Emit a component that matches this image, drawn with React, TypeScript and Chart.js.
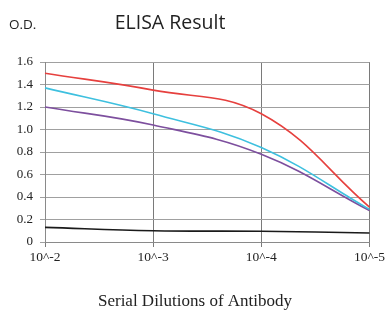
import { useEffect, useRef } from 'react';
import { Chart, registerables } from 'chart.js';

Chart.register(...registerables);

const categories = ['10^-2', '10^-3', '10^-4', '10^-5'];
const redValues = [1.5, 1.35, 1.14, 0.31];
const cyanValues = [1.37, 1.14, 0.84, 0.29];
const purpleValues = [1.2, 1.04, 0.78, 0.28];
const blackValues = [0.13, 0.1, 0.095, 0.08];
const yMin = 0;
const yMax = 1.6;
const yStep = 0.2;
const titleText = 'ELISA Result';
const yUnitText = 'O.D.';
const xTitleText = 'Serial Dilutions of Antibody';

const textPlugin = {
  id: 'extraText',
  afterDraw(chart: any) {
    const ctx = chart.ctx;
    ctx.save();
    ctx.fillStyle = '#222';
    ctx.textBaseline = 'alphabetic';
    ctx.font = '13.5px "Open Sans"';
    ctx.textAlign = 'left';
    ctx.fillText(yUnitText, 9, 29);
    ctx.font = '19.5px "Open Sans"';
    ctx.textAlign = 'center';
    ctx.fillText(titleText, 170, 29);
    ctx.font = '17px "Liberation Serif"';
    ctx.textAlign = 'center';
    ctx.fillText(xTitleText, 195, 306);
    ctx.restore();
  },
};

export default function App() {
  const ref = useRef<HTMLCanvasElement>(null);
  useEffect(() => {
    if (!ref.current) return;
    const mk = (data: number[], color: string) => ({
      data,
      borderColor: color,
      backgroundColor: color,
      borderWidth: 1.6,
      pointRadius: 0,
      tension: 0.4,
      fill: false,
    });
    const chart = new Chart(ref.current, {
      type: 'line',
      data: {
        labels: categories,
        datasets: [
          mk(redValues, '#e6403e'),
          mk(cyanValues, '#3ec0df'),
          mk(purpleValues, '#7d4f9e'),
          mk(blackValues, '#1a1a1a'),
        ],
      },
      options: {
        animation: false,
        responsive: false,
        maintainAspectRatio: false,
        devicePixelRatio: 1,
        layout: { padding: { top: 62, right: 17, left: 0, bottom: 0 } },
        plugins: { legend: { display: false }, title: { display: false }, tooltip: { enabled: false } },
        scales: {
          x: {
            type: 'category',
            offset: false,
            grid: { color: '#7a7a7a', lineWidth: 1, tickLength: 5, drawTicks: true },
            border: { color: '#8a8a8a' },
            ticks: { color: '#222', font: { family: 'Liberation Serif', size: 13.5 }, padding: 2, maxRotation: 0, autoSkip: false },
            afterFit(scale: any) { scale.height = 73; },
          },
          y: {
            min: yMin,
            max: yMax,
            grid: { color: '#a0a0a0', lineWidth: 1, tickLength: 5, drawTicks: true },
            border: { color: '#8a8a8a' },
            ticks: { stepSize: yStep, color: '#222', font: { family: 'Liberation Serif', size: 13 }, padding: 7 },
            afterFit(scale: any) { scale.width = 45; },
          },
        },
      },
      plugins: [textPlugin],
    });
    return () => chart.destroy();
  }, []);
  return (
    <div style={{ position: 'fixed', left: 0, top: 0, width: 387, height: 315, background: '#fff' }}>
      <canvas ref={ref} width={387} height={315} />
    </div>
  );
}
